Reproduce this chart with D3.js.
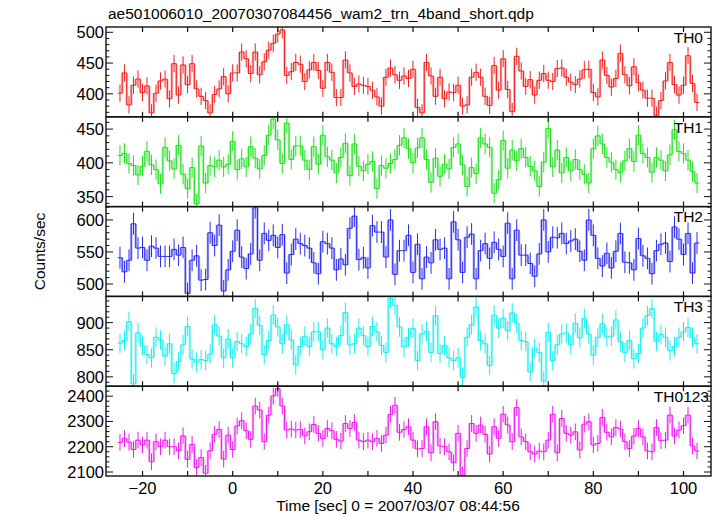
<!DOCTYPE html>
<html><head><meta charset="utf-8">
<script src="https://cdn.jsdelivr.net/npm/d3@7"></script>
<style>body{margin:0;background:#fff}svg{display:block}</style>
</head><body>
<svg id="chart" width="717" height="516"></svg>
<script>
// ---------- data ----------
const title = "ae501006010_20070307084456_wam2_trn_4band_short.qdp";
const xLabel = "Time [sec] 0 = 2007/03/07 08:44:56";
const yLabel = "Counts/sec";
const panelNames = ["TH0", "TH1", "TH2", "TH3", "TH0123"];
const binTimes = d3.range(-25, 104); // 1 s bins, centres -25 .. 103

const th0 = [401,434,382,414,424,402,413,369,401,421,
  424,392,449,398,447,415,449,408,396,389,
  369,399,408,428,400,434,434,468,457,433,
  468,431,452,471,482,497,504,430,436,451,
  448,420,439,451,438,409,451,435,394,394,
  455,434,412,416,414,412,406,395,380,427,
  442,431,422,429,425,440,378,369,451,429,
  396,427,392,403,402,414,380,382,427,435,
  427,396,381,446,406,457,407,371,461,437,
  412,423,398,422,433,422,420,441,442,427,
  419,415,424,439,440,402,395,455,430,411,
  425,466,431,413,444,418,406,393,393,365,
  389,421,451,415,398,414,462,417,386];
const th1 = [411,414,399,396,382,395,417,397,390,369,
  423,403,391,426,383,362,393,339,425,370,
  396,394,404,394,398,432,390,406,394,424,
  407,391,411,441,465,434,399,459,405,425,
  425,404,390,424,398,441,409,404,385,408,
  429,381,428,395,388,398,402,362,396,392,
  399,405,426,437,421,400,422,437,405,371,
  407,380,398,391,423,428,397,365,393,384,
  437,428,423,355,375,433,392,419,403,421,
  408,395,388,365,401,451,394,419,385,408,
  388,405,390,383,370,421,440,428,408,401,
  390,386,403,421,402,441,414,408,386,408,
  404,388,412,449,417,414,404,387,370];
const th2 = [541,519,537,594,556,557,537,559,556,543,
  543,543,554,545,557,485,537,544,506,507,
  580,560,592,489,522,551,584,542,524,547,
  619,537,579,568,576,557,577,517,546,570,
  563,560,556,533,516,566,563,556,522,539,
  530,587,606,538,541,525,591,581,581,542,
  600,515,552,552,576,518,562,508,542,533,
  569,554,556,508,597,569,518,573,578,508,
  552,563,540,565,554,543,595,508,584,545,
  545,532,512,547,600,550,573,572,579,563,
  567,570,551,537,600,576,540,528,548,525,
  551,579,534,533,522,571,544,540,516,552,
  562,564,535,589,570,546,579,517,564];
const th3 = [862,867,902,787,881,857,841,835,873,868,
  838,861,806,828,859,893,833,827,832,830,
  842,896,875,835,870,835,865,861,856,879,
  926,895,841,867,914,892,861,896,868,822,
  856,875,856,883,883,850,890,861,856,876,
  919,859,861,890,876,856,893,883,858,845,
  945,932,892,855,873,889,830,879,884,845,
  913,843,858,835,830,835,799,873,896,929,
  867,861,821,914,890,908,885,918,899,867,
  865,809,853,845,792,882,830,859,879,881,
  859,899,872,908,879,840,873,898,873,875,
  905,865,845,867,833,843,890,913,926,865,
  878,873,848,856,873,883,891,873,861];
const th0123 = [2217,2232,2218,2189,2226,2207,2226,2141,2220,2200,
  2226,2200,2200,2184,2243,2150,2209,2118,2157,2095,
  2184,2249,2268,2151,2246,2189,2282,2303,2263,2229,
  2361,2345,2220,2325,2401,2430,2361,2266,2270,2266,
  2268,2243,2259,2288,2253,2233,2272,2263,2229,2222,
  2292,2272,2296,2226,2220,2226,2220,2233,2213,2246,
  2328,2364,2257,2268,2279,2226,2191,2193,2279,2176,
  2299,2203,2200,2180,2137,2253,2088,2193,2292,2253,
  2286,2249,2171,2279,2233,2329,2286,2220,2355,2239,
  2220,2180,2171,2183,2180,2226,2329,2176,2312,2253,
  2246,2259,2187,2289,2299,2207,2213,2316,2257,2239,
  2276,2270,2220,2193,2242,2272,2239,2183,2180,2276,
  2224,2226,2325,2242,2266,2283,2325,2203,2183];
const seriesValues = [th0, th1, th2, th3, th0123];
const seriesErrors = [14, 15, 17, 18, 33];   // half-lengths of the error bars

const yDomains = [[362.7, 508.6], [335.2, 468.2], [480.6, 620.8], [782.7, 948.4], [2084.2, 2439.5]];
const yTickLabels = [[400, 450, 500], [350, 400, 450], [500, 550, 600], [800, 850, 900], [2100, 2200, 2300, 2400]];
const yMinorStep = [10, 10, 10, 10, 20];
const xDomain = [-28.1, 106.1];
const xTickLabels = [-20, 0, 20, 40, 60, 80, 100];
const xTickMarks = [-20, -10, 0, 10, 20, 30, 40, 50, 60, 70, 80, 90, 100];

// ---------- style / layout ----------
const lineColors = ["#f02020", "#20e020", "#2a2af0", "#18eeee", "#f018f0"];
const paleColors = ["#ffb4b4", "#b4f2b4", "#b4b4f6", "#b4f8f8", "#f8b4f8"];
const L = 106, R = 711, T = 27, B = 476;
const nP = panelNames.length;
const pH = (B - T) / nP;
const font = "'Liberation Sans', Arial, Helvetica, sans-serif";
const labelRight = [703, 703, 703, 703, 709];

const svg = d3.select("#chart");
const x = d3.scaleLinear().domain(xDomain).range([L, R]);
const defs = svg.append("defs");

svg.append("text").attr("x", 108).attr("y", 19)
  .attr("font-family", font).attr("font-size", 15.5).attr("fill", "#000")
  .text(title);

seriesValues.forEach((vals, p) => {
  const top = T + p * pH, bot = top + pH;
  const y = d3.scaleLinear().domain(yDomains[p]).range([bot, top]);
  const g = svg.append("g");
  const cid = "clip" + p;
  defs.append("clipPath").attr("id", cid).append("rect")
    .attr("x", L).attr("y", top).attr("width", R - L).attr("height", pH);
  const dg = g.append("g").attr("clip-path", `url(#${cid})`);
  const err = seriesErrors[p];

  // pale underlay on step transitions
  const trans = vals.slice(1).map((v, i) => ({edge: binTimes[i] + 0.5, a: vals[i], b: v}));
  dg.selectAll("rect.pale").data(trans).enter().append("rect")
    .attr("x", d => x(d.edge) - 1.3).attr("width", 2.6)
    .attr("y", d => y(Math.max(d.a, d.b))).attr("height", d => Math.abs(y(d.a) - y(d.b)))
    .attr("fill", paleColors[p]);

  // error bars
  dg.selectAll("line.err").data(vals).enter().append("line")
    .attr("x1", (d, i) => x(binTimes[i])).attr("x2", (d, i) => x(binTimes[i]))
    .attr("y1", d => y(d - err)).attr("y2", d => y(d + err))
    .attr("stroke", lineColors[p]).attr("stroke-width", 1);

  // step line
  const pts = [];
  vals.forEach((v, i) => { pts.push([binTimes[i] - 0.5, v]); pts.push([binTimes[i] + 0.5, v]); });
  dg.append("path").datum(pts)
    .attr("d", d3.line().x(d => x(d[0])).y(d => y(d[1])))
    .attr("fill", "none").attr("stroke", lineColors[p]).attr("stroke-width", 1);

  // frame
  g.append("rect").attr("x", L).attr("y", top).attr("width", R - L).attr("height", pH)
    .attr("fill", "none").attr("stroke", "#111").attr("stroke-width", 1.4);

  // x ticks (top & bottom, inward)
  xTickMarks.forEach(t => {
    g.append("line").attr("x1", x(t)).attr("x2", x(t)).attr("y1", bot).attr("y2", bot - 5)
      .attr("stroke", "#111").attr("stroke-width", 1.2);
    g.append("line").attr("x1", x(t)).attr("x2", x(t)).attr("y1", top).attr("y2", top + 5)
      .attr("stroke", "#111").attr("stroke-width", 1.2);
  });

  // y ticks: major and minor, left & right
  const [d0, d1] = yDomains[p];
  const step = yMinorStep[p];
  const minor = d3.range(Math.ceil(d0 / step) * step, d1, step);
  minor.forEach(v => {
    const isMajor = yTickLabels[p].includes(v);
    const len = isMajor ? 7 : 3.5;
    g.append("line").attr("x1", L).attr("x2", L + len).attr("y1", y(v)).attr("y2", y(v))
      .attr("stroke", "#111").attr("stroke-width", 1);
    g.append("line").attr("x1", R).attr("x2", R - len).attr("y1", y(v)).attr("y2", y(v))
      .attr("stroke", "#111").attr("stroke-width", 1);
  });
  yTickLabels[p].forEach(v => {
    g.append("text").attr("x", 104).attr("y", y(v)).attr("dy", "0.36em")
      .attr("text-anchor", "end").attr("font-family", font).attr("font-size", 16.5)
      .attr("fill", "#000").text(v);
  });

  g.append("text").attr("x", labelRight[p]).attr("y", top + 15.7)
    .attr("text-anchor", "end").attr("font-family", font).attr("font-size", 15.5)
    .attr("fill", "#000").text(panelNames[p]);
});

// x tick labels
xTickLabels.forEach(t => {
  svg.append("text").attr("x", x(t)).attr("y", 494)
    .attr("text-anchor", "middle").attr("font-family", font).attr("font-size", 16.5)
    .attr("fill", "#000").text(t < 0 ? "\u2212" + Math.abs(t) : t);
});

svg.append("text").attr("x", 398).attr("y", 511).attr("text-anchor", "middle")
  .attr("font-family", font).attr("font-size", 15.5).attr("fill", "#000").text(xLabel);

svg.append("text").attr("transform", `translate(45,${(T + B) / 2}) rotate(-90)`)
  .attr("text-anchor", "middle").attr("font-family", font).attr("font-size", 15.5)
  .attr("fill", "#000").text(yLabel);
</script>
</body></html>
